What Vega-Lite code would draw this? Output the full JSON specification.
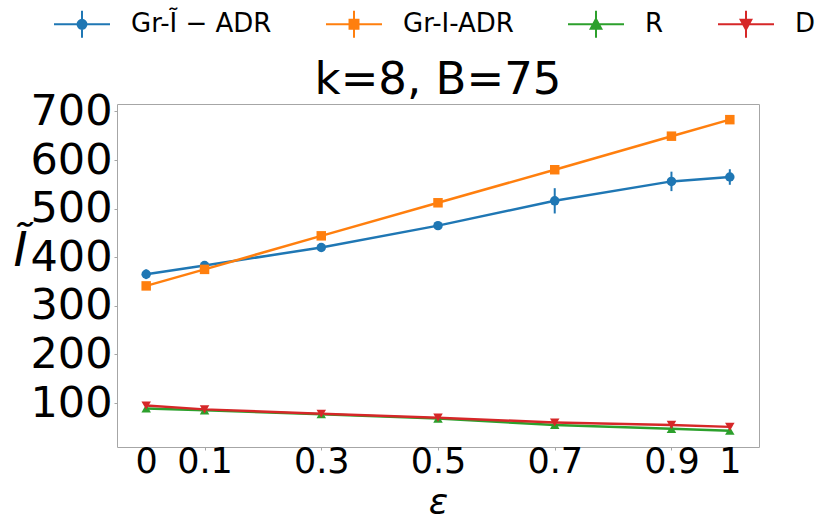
{
  "$schema": "https://vega.github.io/schema/vega-lite/v6.json",
  "width": 642,
  "height": 343,
  "autosize": {"type": "none"},
  "padding": {"left": 117, "top": 104, "right": 71, "bottom": 78},
  "background": "white",
  "title": {
    "text": "k=8, B=75",
    "fontSize": 45,
    "fontWeight": "normal",
    "font": "DejaVu Sans",
    "color": "black",
    "anchor": "middle",
    "baseline": "alphabetic",
    "offset": 10,
    "dy": 154
  },
  "config": {
    "font": "DejaVu Sans",
    "view": {"stroke": "#a6a6a6", "strokeWidth": 1}
  },
  "data": {
    "values": [
      {"series": "Gr-Ĩ − ADR", "eps": 0, "val": 365, "lo": 355, "hi": 375},
      {"series": "Gr-Ĩ − ADR", "eps": 0.1, "val": 383, "lo": 378, "hi": 388},
      {"series": "Gr-Ĩ − ADR", "eps": 0.3, "val": 420, "lo": 415, "hi": 425},
      {"series": "Gr-Ĩ − ADR", "eps": 0.5, "val": 465, "lo": 459, "hi": 471},
      {"series": "Gr-Ĩ − ADR", "eps": 0.7, "val": 516, "lo": 490, "hi": 542},
      {"series": "Gr-Ĩ − ADR", "eps": 0.9, "val": 556, "lo": 536, "hi": 576},
      {"series": "Gr-Ĩ − ADR", "eps": 1, "val": 565, "lo": 549, "hi": 581},
      {"series": "Gr-I-ADR", "eps": 0, "val": 341, "lo": 339, "hi": 343},
      {"series": "Gr-I-ADR", "eps": 0.1, "val": 375, "lo": 373, "hi": 377},
      {"series": "Gr-I-ADR", "eps": 0.3, "val": 444, "lo": 442, "hi": 446},
      {"series": "Gr-I-ADR", "eps": 0.5, "val": 512, "lo": 510, "hi": 514},
      {"series": "Gr-I-ADR", "eps": 0.7, "val": 580, "lo": 578, "hi": 582},
      {"series": "Gr-I-ADR", "eps": 0.9, "val": 649, "lo": 647, "hi": 651},
      {"series": "Gr-I-ADR", "eps": 1, "val": 683, "lo": 681, "hi": 685},
      {"series": "R", "eps": 0, "val": 89, "lo": 88, "hi": 90},
      {"series": "R", "eps": 0.1, "val": 85, "lo": 84, "hi": 86},
      {"series": "R", "eps": 0.3, "val": 77, "lo": 76, "hi": 78},
      {"series": "R", "eps": 0.5, "val": 68, "lo": 67, "hi": 69},
      {"series": "R", "eps": 0.7, "val": 55, "lo": 54, "hi": 56},
      {"series": "R", "eps": 0.9, "val": 47, "lo": 46, "hi": 48},
      {"series": "R", "eps": 1, "val": 43, "lo": 42, "hi": 44},
      {"series": "D", "eps": 0, "val": 95, "lo": 94, "hi": 96},
      {"series": "D", "eps": 0.1, "val": 87, "lo": 86, "hi": 88},
      {"series": "D", "eps": 0.3, "val": 78, "lo": 77, "hi": 79},
      {"series": "D", "eps": 0.5, "val": 70, "lo": 69, "hi": 71},
      {"series": "D", "eps": 0.7, "val": 60, "lo": 59, "hi": 61},
      {"series": "D", "eps": 0.9, "val": 55, "lo": 54, "hi": 56},
      {"series": "D", "eps": 1, "val": 51, "lo": 50, "hi": 52}
    ]
  },
  "encoding": {
    "x": {
      "field": "eps",
      "type": "quantitative",
      "scale": {"domain": [-0.05, 1.05], "nice": false, "zero": false},
      "axis": {
        "title": "ε",
        "titleFont": "DejaVu Sans",
        "titleFontStyle": "italic",
        "titleFontWeight": "normal",
        "titleFontSize": 36,
        "titleColor": "black",
        "titleBaseline": "alphabetic",
        "titleY": 66,
        "values": [0, 0.1, 0.3, 0.5, 0.7, 0.9, 1],
        "format": "~g",
        "labelFontSize": 35,
        "labelColor": "black",
        "labelBaseline": "alphabetic",
        "labelPadding": 22,
        "labelFlush": false,
        "labelOverlap": false,
        "tickSize": 3,
        "tickColor": "#a6a6a6",
        "domain": false,
        "grid": false
      }
    },
    "y": {
      "field": "val",
      "type": "quantitative",
      "scale": {"domain": [9.6, 715.2], "nice": false, "zero": false},
      "axis": {
        "title": "Ĩ",
        "titleFont": "DejaVu Sans",
        "titleFontStyle": "italic",
        "titleFontWeight": "normal",
        "titleFontSize": 48,
        "titleColor": "black",
        "titleAngle": 0,
        "titleAlign": "center",
        "titleBaseline": "alphabetic",
        "titleX": -97,
        "titleY": 161,
        "values": [100, 200, 300, 400, 500, 600, 700],
        "labelFontSize": 43,
        "labelColor": "black",
        "labelPadding": 2,
        "labelFlush": false,
        "labelOverlap": false,
        "tickSize": 3,
        "tickColor": "#a6a6a6",
        "domain": false,
        "grid": false
      }
    }
  },
  "resolve": {"scale": {"color": "independent", "shape": "independent"}},
  "layer": [
    {
      "mark": {"type": "rule", "strokeWidth": 2},
      "encoding": {
        "y": {"field": "lo", "type": "quantitative"},
        "y2": {"field": "hi"},
        "color": {
          "field": "series",
          "type": "nominal",
          "scale": {"domain": ["Gr-Ĩ − ADR", "Gr-I-ADR", "R", "D"], "range": ["#1f77b4", "#ff7f0e", "#2ca02c", "#d62728"]},
          "legend": null
        }
      }
    },
    {
      "mark": {"type": "line", "strokeWidth": 2.5},
      "encoding": {
        "color": {
          "field": "series",
          "type": "nominal",
          "scale": {"domain": ["Gr-Ĩ − ADR", "Gr-I-ADR", "R", "D"], "range": ["#1f77b4", "#ff7f0e", "#2ca02c", "#d62728"]},
          "legend": null
        }
      }
    },
    {
      "mark": {"type": "point", "filled": true, "opacity": 1, "size": 90},
      "encoding": {
        "color": {
          "field": "series",
          "type": "nominal",
          "scale": {"domain": ["Gr-Ĩ − ADR", "Gr-I-ADR", "R", "D"], "range": ["#1f77b4", "#ff7f0e", "#2ca02c", "#d62728"]},
          "legend": null
        },
        "shape": {
          "field": "series",
          "type": "nominal",
          "scale": {"domain": ["Gr-Ĩ − ADR", "Gr-I-ADR", "R", "D"], "range": ["circle", "square", "triangle-up", "triangle-down"]},
          "legend": null
        }
      }
    },
    {
      "transform": [{"filter": "datum.eps > 5"}],
      "mark": {"type": "point", "filled": false, "opacity": 1, "strokeWidth": 2},
      "encoding": {
        "color": {
          "field": "series",
          "type": "nominal",
          "scale": {"domain": ["Gr-Ĩ − ADR", "Gr-I-ADR", "R", "D"], "range": ["#1f77b4", "#ff7f0e", "#2ca02c", "#d62728"]},
          "legend": {
            "title": null,
            "orient": "none",
            "legendX": -64,
            "legendY": -109,
            "direction": "horizontal",
            "columns": 4,
            "labelFont": "DejaVu Sans",
            "labelFontSize": 26,
            "labelColor": "black",
            "labelLimit": 400,
            "labelOffset": 20,
            "columnPadding": 50,
            "symbolSize": 3136,
            "symbolStrokeWidth": 2
          }
        },
        "shape": {
          "field": "series",
          "type": "nominal",
          "scale": {
            "domain": ["Gr-Ĩ − ADR", "Gr-I-ADR", "R", "D"],
            "range": [
              "M-1,0H1M0,-0.48V0.48M-0.16,0A0.16,0.16 0 1,0 0.16,0A0.16,0.16 0 1,0 -0.16,0ZM-0.1,0A0.1,0.1 0 1,0 0.1,0A0.1,0.1 0 1,0 -0.1,0ZM-0.04,0A0.04,0.04 0 1,0 0.04,0A0.04,0.04 0 1,0 -0.04,0Z",
              "M-1,0H1M0,-0.48V0.48M-0.16,-0.16H0.16V0.16H-0.16ZM-0.1,-0.1H0.1V0.1H-0.1ZM-0.04,-0.04H0.04V0.04H-0.04Z",
              "M-1,0H1M0,-0.48V0.48M0,-0.19L0.19,0.16L-0.19,0.16ZM0,-0.11L0.11,0.09L-0.11,0.09ZM0,-0.04L0.04,0.03L-0.04,0.03Z",
              "M-1,0H1M0,-0.48V0.48M0,0.19L0.19,-0.16L-0.19,-0.16ZM0,0.11L0.11,-0.09L-0.11,-0.09ZM0,0.04L0.04,-0.03L-0.04,-0.03Z"
            ]
          },
          "legend": {
            "title": null,
            "orient": "none",
            "legendX": -64,
            "legendY": -109,
            "direction": "horizontal",
            "columns": 4,
            "labelFont": "DejaVu Sans",
            "labelFontSize": 26,
            "labelColor": "black",
            "labelLimit": 400,
            "labelOffset": 20,
            "columnPadding": 50,
            "symbolSize": 3136,
            "symbolStrokeWidth": 2
          }
        }
      }
    }
  ]
}
